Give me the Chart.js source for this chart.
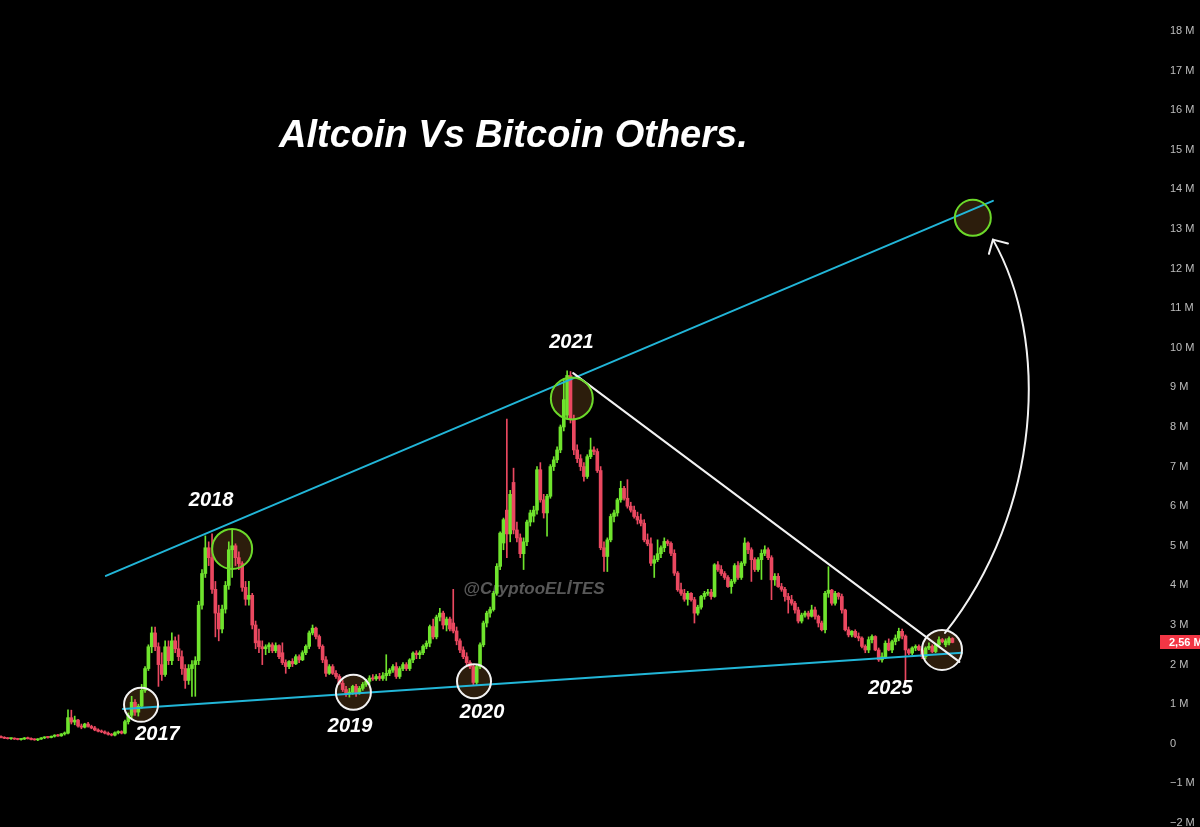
<!DOCTYPE html>
<html><head><meta charset="utf-8">
<script src="https://cdn.jsdelivr.net/npm/chart.js@4.4.1/dist/chart.umd.min.js"></script>
<style>html,body{margin:0;padding:0;background:#000;overflow:hidden}canvas{display:block}</style>
</head><body>
<canvas id="c" width="1200" height="827"></canvas>
<script>
// OHLC values in millions, one candle per index
const opens = [
0.18,0.16,0.14,0.13,0.14,0.12,0.11,0.12,0.15,0.13,
0.11,0.1,0.12,0.15,0.17,0.16,0.19,0.22,0.2,0.25,
0.27,0.66,0.55,0.6,0.45,0.42,0.5,0.44,0.4,0.35,
0.32,0.3,0.27,0.24,0.22,0.28,0.31,0.27,0.56,0.72,
1.05,0.8,0.95,1.35,1.9,2.45,2.8,2.45,2.0,1.75,
2.45,2.1,2.6,2.4,2.2,1.9,1.6,1.9,2.0,2.1,
3.5,4.3,4.95,4.7,3.9,3.3,2.9,3.4,4.0,4.9,
5.0,4.7,4.55,3.95,3.65,3.75,3.0,2.6,2.45,2.4,
2.45,2.5,2.35,2.48,2.3,2.05,1.95,2.08,2.02,2.2,
2.12,2.3,2.46,2.8,2.92,2.71,2.46,2.12,1.78,1.95,
1.78,1.7,1.53,1.37,1.28,1.3,1.45,1.28,1.4,1.5,
1.58,1.66,1.64,1.7,1.65,1.72,1.78,1.86,1.95,1.7,
1.9,2.0,1.9,2.12,2.29,2.25,2.3,2.46,2.54,2.96,
2.7,3.2,3.3,3.0,3.15,3.05,2.85,2.6,2.37,2.2,
2.05,1.95,1.55,1.95,2.5,3.05,3.3,3.39,3.8,4.48,
5.07,5.9,5.3,6.6,5.4,5.2,4.8,5.1,5.6,5.75,
5.9,6.92,6.16,5.83,6.25,7.0,7.17,7.42,8.0,8.3,
9.3,8.2,7.42,7.2,7.0,6.75,7.25,7.42,7.38,6.9,
4.95,4.73,5.15,5.74,5.83,6.16,6.45,6.2,6.0,5.9,
5.74,5.65,5.57,5.15,5.05,4.56,4.65,4.8,4.95,5.11,
5.06,4.81,4.31,3.89,3.8,3.65,3.8,3.64,3.3,3.45,
3.72,3.8,3.83,3.72,4.52,4.4,4.3,4.2,3.97,4.1,
4.5,4.2,4.56,5.07,4.9,4.65,4.4,4.65,4.81,4.9,
4.7,4.14,4.23,3.97,3.9,3.72,3.64,3.55,3.38,3.1,
3.25,3.3,3.22,3.38,3.22,3.05,2.88,3.8,3.88,3.55,
3.8,3.72,3.38,2.88,2.75,2.84,2.71,2.67,2.46,2.37,
2.63,2.71,2.37,2.12,2.2,2.54,2.37,2.58,2.67,2.84,
2.72,2.37,2.29,2.42,2.46,2.37,2.2,2.42,2.46,2.33,
2.5,2.63,2.5,2.55,2.66
];
const highs = [
0.2,0.18,0.16,0.15,0.15,0.14,0.13,0.16,0.17,0.15,
0.13,0.13,0.16,0.18,0.19,0.2,0.23,0.24,0.26,0.3,
0.86,0.85,0.7,0.62,0.5,0.52,0.54,0.47,0.44,0.38,
0.35,0.33,0.3,0.26,0.3,0.33,0.33,0.6,0.78,1.2,
1.12,1.0,1.5,1.95,2.5,2.95,2.95,2.55,2.3,2.6,
2.6,2.8,2.7,2.75,2.35,2.0,2.0,2.1,2.2,3.6,
4.4,5.25,5.1,5.3,4.1,3.5,3.5,4.1,5.1,5.4,
5.05,4.85,4.6,4.1,4.1,3.8,3.1,2.9,2.6,2.5,
2.55,2.55,2.55,2.5,2.55,2.12,2.1,2.15,2.25,2.25,
2.35,2.5,2.85,3.0,2.95,2.75,2.5,2.2,2.0,2.0,
1.85,1.75,1.6,1.45,1.4,1.48,1.5,1.45,1.55,1.62,
1.72,1.75,1.75,1.78,1.8,2.25,1.9,2.0,2.05,1.95,
2.05,2.05,2.15,2.32,2.35,2.35,2.5,2.6,3.0,3.15,
3.25,3.42,3.35,3.2,3.2,3.9,2.95,2.65,2.45,2.3,
2.1,2.0,2.0,2.55,3.1,3.35,3.45,3.85,4.55,5.35,
5.7,8.2,6.4,6.96,5.6,5.3,5.2,5.65,5.9,6.0,
7.0,7.1,6.3,6.3,7.05,7.25,7.5,8.05,9.2,9.42,
9.4,8.3,7.55,7.3,7.1,7.3,7.72,7.5,7.45,7.0,
5.1,5.2,5.8,5.9,6.2,6.63,6.5,6.67,6.1,6.0,
5.85,5.8,5.66,5.3,5.2,4.75,5.15,5.0,5.2,5.15,
5.1,4.9,4.35,4.06,3.9,3.85,3.82,3.7,3.5,3.75,
3.85,3.9,3.9,4.55,4.6,4.5,4.35,4.25,4.15,4.55,
4.6,4.6,5.2,5.1,4.95,4.7,4.7,4.9,5.0,4.95,
4.75,4.3,4.3,4.05,3.95,3.8,3.75,3.6,3.45,3.3,
3.35,3.35,3.5,3.45,3.25,3.1,3.85,4.47,3.9,3.85,
3.82,3.78,3.4,2.95,2.86,2.88,2.8,2.7,2.5,2.7,
2.75,2.73,2.42,2.3,2.6,2.65,2.62,2.75,2.92,2.9,
2.75,2.4,2.45,2.5,2.5,2.4,2.45,2.55,2.5,2.52,
2.7,2.66,2.65,2.7,2.68
];
const lows = [
0.15,0.13,0.12,0.11,0.11,0.1,0.09,0.11,0.12,0.1,
0.09,0.08,0.11,0.13,0.14,0.15,0.17,0.19,0.19,0.22,
0.25,0.5,0.48,0.42,0.38,0.4,0.42,0.38,0.33,0.3,
0.28,0.25,0.22,0.2,0.2,0.25,0.25,0.25,0.5,0.62,
0.72,0.7,0.9,1.3,1.85,2.3,2.35,1.45,1.6,1.7,
2.0,2.0,2.3,2.1,1.75,1.4,1.5,1.2,1.2,2.0,
3.4,4.2,4.5,3.8,2.7,2.6,2.8,3.3,3.9,4.2,
4.5,4.4,3.85,3.5,3.5,2.9,2.4,2.3,2.0,2.25,
2.3,2.3,2.3,2.15,2.0,1.78,1.9,1.95,2.0,2.05,
2.1,2.25,2.4,2.75,2.65,2.4,2.05,1.7,1.75,1.75,
1.65,1.5,1.32,1.2,1.18,1.25,1.2,1.25,1.35,1.45,
1.5,1.6,1.6,1.6,1.6,1.6,1.72,1.8,1.65,1.65,
1.85,1.85,1.85,2.05,2.15,2.15,2.25,2.4,2.45,2.65,
2.65,3.1,2.9,2.85,2.85,2.8,2.5,2.3,2.15,1.95,
1.9,1.48,1.5,1.9,2.45,2.95,3.2,3.35,3.75,4.4,
4.9,4.7,5.1,5.3,5.1,4.7,4.4,5.0,5.5,5.6,
5.8,6.1,5.7,5.24,6.2,6.9,7.1,7.35,7.9,8.2,
8.1,7.3,7.1,6.9,6.63,6.7,7.2,7.3,6.85,4.9,
4.35,4.35,5.1,5.6,5.75,6.1,6.15,5.95,5.85,5.7,
5.55,5.5,5.1,5.0,4.5,4.2,4.6,4.7,4.85,5.0,
4.75,4.25,3.85,3.75,3.6,3.5,3.6,3.05,3.25,3.4,
3.65,3.75,3.65,3.7,4.35,4.25,4.15,3.95,3.8,4.05,
4.15,4.15,4.5,4.8,4.1,4.35,4.35,4.15,4.75,4.65,
3.64,4.0,3.95,3.85,3.6,3.3,3.5,3.3,3.05,3.05,
3.2,3.15,3.2,3.15,2.95,2.85,2.8,3.7,3.5,3.5,
3.65,3.3,2.85,2.7,2.7,2.68,2.6,2.42,2.3,2.3,
2.55,2.35,2.08,2.06,2.15,2.35,2.3,2.5,2.6,2.65,
1.56,2.25,2.25,2.35,2.35,2.15,2.15,2.38,2.3,2.3,
2.45,2.55,2.45,2.5,2.55
];
const closes = [
0.16,0.14,0.13,0.14,0.12,0.11,0.12,0.15,0.13,0.11,
0.1,0.12,0.15,0.17,0.16,0.19,0.22,0.2,0.25,0.27,
0.66,0.55,0.6,0.45,0.42,0.5,0.44,0.4,0.35,0.32,
0.3,0.27,0.24,0.22,0.28,0.31,0.27,0.56,0.72,1.05,
0.8,0.95,1.35,1.9,2.45,2.8,2.45,2.0,1.75,2.45,
2.1,2.6,2.4,2.2,1.9,1.6,1.9,2.0,2.1,3.5,
4.3,4.95,4.7,3.9,3.3,2.9,3.4,4.0,4.9,5.0,
4.7,4.55,3.95,3.65,3.75,3.0,2.55,2.45,2.4,2.45,
2.5,2.35,2.48,2.2,2.05,1.95,2.08,2.02,2.2,2.12,
2.3,2.46,2.8,2.92,2.71,2.46,2.12,1.78,1.95,1.78,
1.7,1.53,1.37,1.28,1.3,1.45,1.28,1.4,1.5,1.58,
1.66,1.64,1.7,1.65,1.72,1.78,1.86,1.95,1.7,1.9,
2.0,1.9,2.12,2.29,2.25,2.3,2.46,2.54,2.96,2.7,
3.2,3.3,3.0,3.15,2.9,2.85,2.6,2.37,2.2,2.05,
1.95,1.55,1.95,2.5,3.05,3.3,3.39,3.8,4.48,5.32,
5.66,5.3,6.3,5.4,5.2,4.8,5.1,5.6,5.83,5.9,
6.92,6.16,5.83,6.25,7.0,7.17,7.42,8.0,8.69,9.3,
8.2,7.42,7.2,7.0,6.75,7.25,7.42,7.38,6.9,4.95,
4.73,5.15,5.74,5.83,6.16,6.45,6.2,6.0,5.9,5.74,
5.65,5.57,5.15,5.05,4.56,4.65,4.8,4.95,5.11,5.06,
4.81,4.31,3.89,3.8,3.65,3.8,3.64,3.3,3.45,3.72,
3.8,3.83,3.72,4.52,4.4,4.3,4.2,3.97,4.1,4.5,
4.2,4.56,5.07,4.9,4.65,4.4,4.65,4.81,4.9,4.7,
4.14,4.23,3.97,3.9,3.72,3.64,3.55,3.38,3.1,3.25,
3.3,3.22,3.38,3.22,3.05,2.88,3.8,3.88,3.55,3.8,
3.72,3.38,2.88,2.75,2.84,2.71,2.67,2.46,2.37,2.63,
2.71,2.37,2.12,2.2,2.54,2.37,2.58,2.67,2.84,2.72,
2.37,2.29,2.42,2.46,2.37,2.2,2.42,2.46,2.33,2.5,
2.63,2.58,2.6,2.66,2.56
];
const yTicks = [-2,-1,0,1,2,3,4,5,6,7,8,9,10,11,12,13,14,15,16,17,18];
const lastPrice = 2.56;
const lastPriceLabel = '2,56 M';
const titleText = 'Altcoin Vs Bitcoin Others.';
const watermark = {text:'@CryptooELİTES', at:[159.1, 3.91]};

// drawings in data coordinates: [candle index, value in M]
const trendLines = [
  {from:[31.3, 4.24],  to:[296.1, 13.71], color:'#22b6d8'},
  {from:[36.4, 0.88],  to:[286.9, 2.30],  color:'#22b6d8'},
  {from:[170.8, 9.36], to:[286.1, 2.07],  color:'#f2f2f2'}
];
const circles = [
  {at:[41.8, 0.985], r:17,   color:'#f2f2f2'},
  {at:[69.0, 4.92],  r:20,   color:'#6cd92a'},
  {at:[105.2, 1.30], r:17.5, color:'#f2f2f2'},
  {at:[141.2, 1.58], r:17,   color:'#f2f2f2'},
  {at:[170.4, 8.72], r:21,   color:'#6cd92a'},
  {at:[280.9, 2.37], r:20,   color:'#f2f2f2'},
  {at:[290.1, 13.28], r:18,  color:'#6cd92a'}
];
const arrowCurve = [[281.8, 2.80], [310.9, 5.91], [313.1, 10.20], [296.1, 12.73]];
const arrowHead = [[294.9, 12.37], [296.1, 12.73], [300.6, 12.63]];
const yearLabels = [
  {text:'2017', at:[46.7, 0.24]},
  {text:'2018', at:[62.7, 6.14]},
  {text:'2019', at:[104.2, 0.43]},
  {text:'2020', at:[143.6, 0.78]},
  {text:'2021', at:[170.3, 10.13]},
  {text:'2025', at:[265.5, 1.40]}
];

const GREEN = '#6fe42d', RED = '#ea4860';
const idx = closes.map((_, i) => i);
const bodyData = idx.map(i => ({x:i, y:[opens[i], closes[i]]}));
const wickData = idx.map(i => ({x:i, y:[lows[i], highs[i]]}));
const candleColor = ctx => closes[ctx.dataIndex] >= opens[ctx.dataIndex] ? GREEN : RED;

const fmt = v => v === 0 ? '0' : (v < 0 ? '\u2212' + Math.abs(v) : String(v)) + ' M';

const overlay = {
  id:'overlay',
  beforeDraw(chart){
    const {ctx, width, height} = chart;
    ctx.save(); ctx.fillStyle = '#000'; ctx.fillRect(0, 0, width, height); ctx.restore();
  },
  beforeDatasetsDraw(chart){
    const {ctx, scales:{x, y}} = chart;
    ctx.save();
    circles.forEach(c => {
      ctx.beginPath();
      ctx.arc(x.getPixelForValue(c.at[0]), y.getPixelForValue(c.at[1]), c.r, 0, Math.PI*2);
      ctx.fillStyle = '#2c1d0c';
      ctx.fill();
    });
    ctx.font = 'italic bold 17px "Liberation Sans", Arial, sans-serif';
    ctx.fillStyle = '#585858';
    ctx.textAlign = 'center'; ctx.textBaseline = 'middle';
    ctx.fillText(watermark.text, x.getPixelForValue(watermark.at[0]), y.getPixelForValue(watermark.at[1]));
    ctx.restore();
  },
  afterDatasetsDraw(chart){
    const {ctx, scales:{x, y}} = chart;
    const P = p => [x.getPixelForValue(p[0]), y.getPixelForValue(p[1])];
    ctx.save();
    ctx.lineCap = 'round';
    trendLines.forEach(l => {
      const a = P(l.from), b = P(l.to);
      ctx.beginPath(); ctx.moveTo(a[0], a[1]); ctx.lineTo(b[0], b[1]);
      ctx.strokeStyle = l.color; ctx.lineWidth = 2; ctx.stroke();
    });
    circles.forEach(c => {
      const p = P(c.at);
      ctx.beginPath(); ctx.arc(p[0], p[1], c.r, 0, Math.PI*2);
      ctx.strokeStyle = c.color; ctx.lineWidth = 2; ctx.stroke();
    });
    const q = arrowCurve.map(P);
    ctx.beginPath(); ctx.moveTo(q[0][0], q[0][1]);
    ctx.bezierCurveTo(q[1][0], q[1][1], q[2][0], q[2][1], q[3][0], q[3][1]);
    ctx.strokeStyle = '#f2f2f2'; ctx.lineWidth = 2; ctx.stroke();
    const h = arrowHead.map(P);
    ctx.beginPath(); ctx.moveTo(h[0][0], h[0][1]); ctx.lineTo(h[1][0], h[1][1]); ctx.lineTo(h[2][0], h[2][1]);
    ctx.stroke();

    ctx.fillStyle = '#ffffff';
    ctx.textAlign = 'center'; ctx.textBaseline = 'middle';
    ctx.font = 'italic bold 20px "Liberation Sans", Arial, sans-serif';
    yearLabels.forEach(t => { const p = P(t.at); ctx.fillText(t.text, p[0], p[1]); });

    ctx.textAlign = 'left'; ctx.textBaseline = 'alphabetic';
    ctx.font = 'italic bold 38px "Liberation Sans", Arial, sans-serif';
    ctx.fillText(titleText, 279, 147);

    const yp = y.getPixelForValue(lastPrice);
    ctx.fillStyle = '#f23645';
    ctx.fillRect(1160, Math.round(yp) - 7, 40, 14);
    ctx.fillStyle = '#ffffff';
    ctx.font = 'bold 11px "Liberation Sans", Arial, sans-serif';
    ctx.textBaseline = 'middle';
    ctx.fillText(lastPriceLabel, 1169, yp + 0.5);
    ctx.restore();
  }
};

new Chart(document.getElementById('c'), {
  type:'bar',
  data:{
    datasets:[
      {data:wickData, backgroundColor:candleColor, barThickness:1, grouped:false, borderWidth:0, order:2},
      {data:bodyData, backgroundColor:candleColor, barThickness:3, minBarLength:1, grouped:false, borderWidth:0, order:1}
    ]
  },
  options:{
    responsive:false, animation:false, events:[],
    devicePixelRatio:1,
    layout:{padding:0},
    plugins:{legend:{display:false}, tooltip:{enabled:false}, title:{display:false}},
    scales:{
      x:{type:'linear', display:false, offset:false, min:-0.2985, max:342.99, grid:{display:false}},
      y:{
        position:'right', min:-2.1, max:18.78,
        grid:{display:false, drawTicks:false}, border:{display:false},
        ticks:{padding:20, color:'#bdbdbd', autoSkip:false,
          font:{family:'"Liberation Sans", Arial, sans-serif', size:11},
          callback:v => fmt(v)},
        afterBuildTicks:s => { s.ticks = yTicks.map(v => ({value:v})); },
        afterFit:s => { s.width = 50; s.paddingTop = 0; s.paddingBottom = 0; }
      }
    }
  },
  plugins:[overlay]
});
</script>
</body></html>
